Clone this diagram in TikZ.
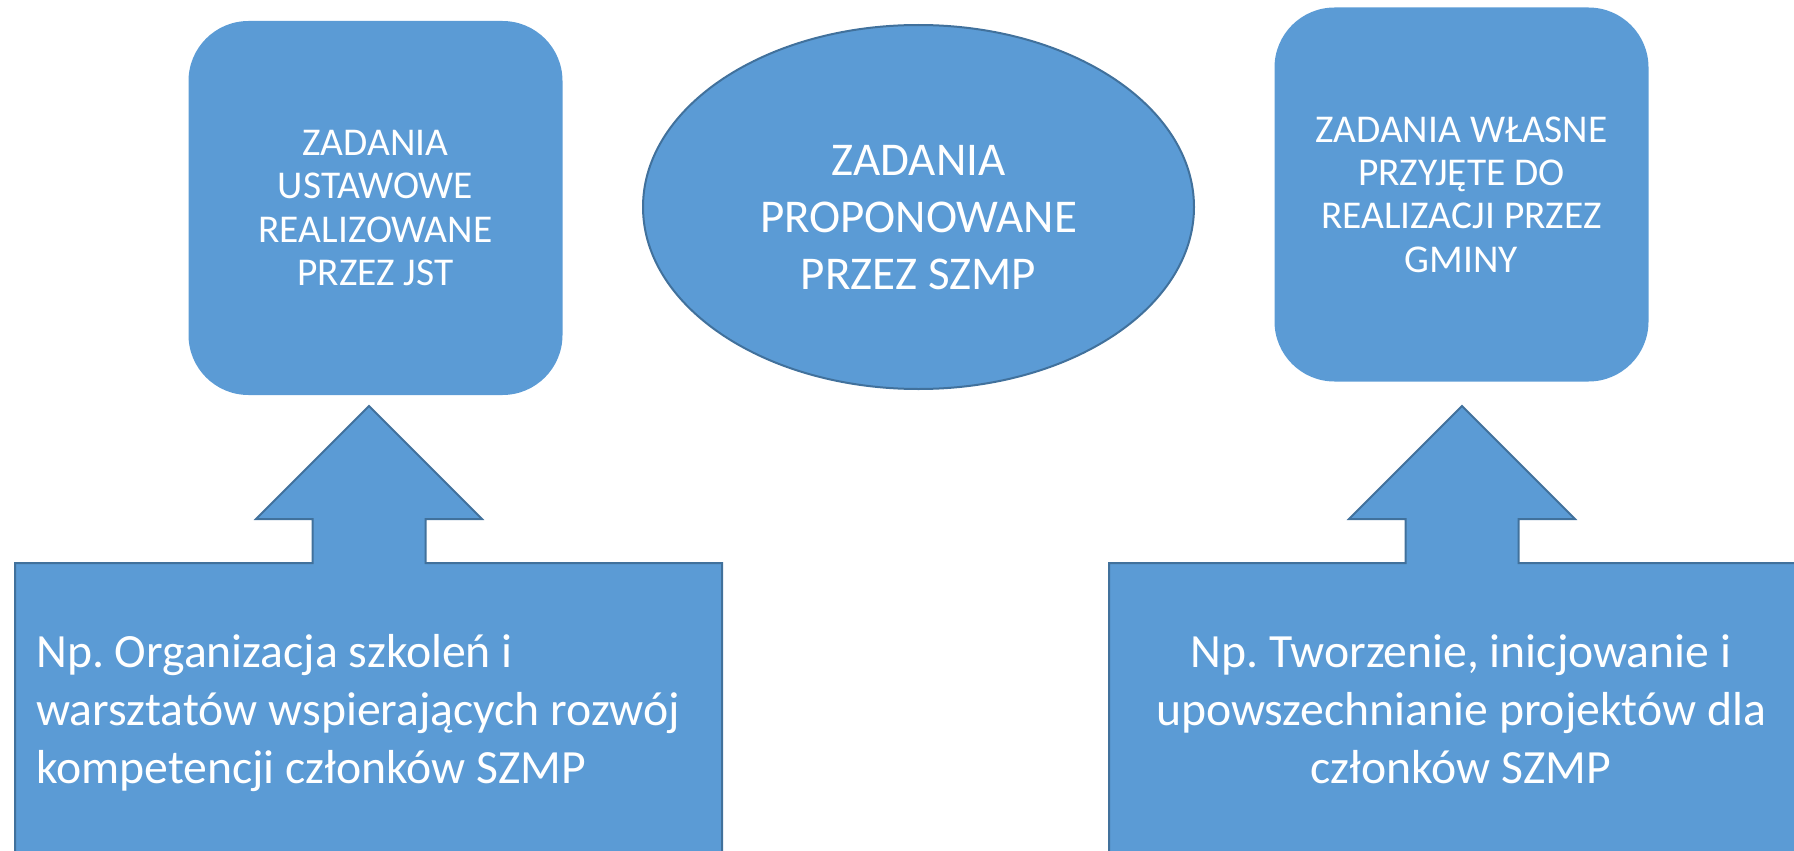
\documentclass[tikz,border=0pt]{standalone}
\usepackage{fontspec}
\setmainfont{Carlito}
\usetikzlibrary{shapes.geometric}
\definecolor{fillblue}{HTML}{5B9BD5}
\definecolor{lineblue}{HTML}{41719C}
\frenchspacing
\begin{document}
\begin{tikzpicture}[x=1pt,y=-1pt,
  roundbox/.style={rectangle, rounded corners=60pt, fill=fillblue, minimum width=374pt, minimum height=374pt, text=white, align=center, inner sep=0pt, font=\fontsize{39.4}{43.3}\selectfont},
  ovalbox/.style={ellipse, fill=fillblue, draw=lineblue, line width=2pt, minimum width=551pt, minimum height=364pt, inner sep=0pt},
  ovaltext/.style={text=white, align=center, inner sep=0pt, font=\fontsize{47}{57}\selectfont},
  calloutshape/.style={fill=fillblue, draw=lineblue, line width=2pt, line join=miter},
  callouttext/.style={text=white, inner sep=0pt, font=\fontsize{47.7}{58}\selectfont}]
\useasboundingbox (0,0) rectangle (1794,851);
\clip (0,0) rectangle (1794,851);

\node[roundbox] (ustawowe) at (375.5,208) {ZADANIA\\USTAWOWE\\REALIZOWANE\\PRZEZ JST};
\node[ovalbox] (proponowane) at (918.5,207) {};
\node[ovaltext] (proponowanetxt) at (918.5,218) {ZADANIA\\PROPONOWANE\\PRZEZ SZMP};
\node[roundbox] (wlasne) at (1461.5,194.5) {ZADANIA WŁASNE\\PRZYJĘTE DO\\REALIZACJI PRZEZ\\GMINY};

% left up-arrow callout
\draw[calloutshape] (15,900) -- (15,563) -- (312.5,563) -- (312.5,519) -- (256,519) -- (369,406)
  -- (482,519) -- (425.5,519) -- (425.5,563) -- (722,563) -- (722,900) -- cycle;
% right up-arrow callout
\draw[calloutshape] (1109,900) -- (1109,563) -- (1405.5,563) -- (1405.5,519) -- (1349,519) -- (1462,406)
  -- (1575,519) -- (1518.5,519) -- (1518.5,563) -- (1815,563) -- (1815,900) -- cycle;

\node[callouttext, anchor=base west, align=left] (przyklad1) at (36,783)
  {Np. Organizacja szkoleń i\\warsztatów wspierających rozwój\\kompetencji członków SZMP};
\node[callouttext, anchor=base, align=center] (przyklad2) at (1461,783)
  {Np. Tworzenie, inicjowanie i\\upowszechnianie projektów dla\\członków SZMP};
\end{tikzpicture}
\end{document}
